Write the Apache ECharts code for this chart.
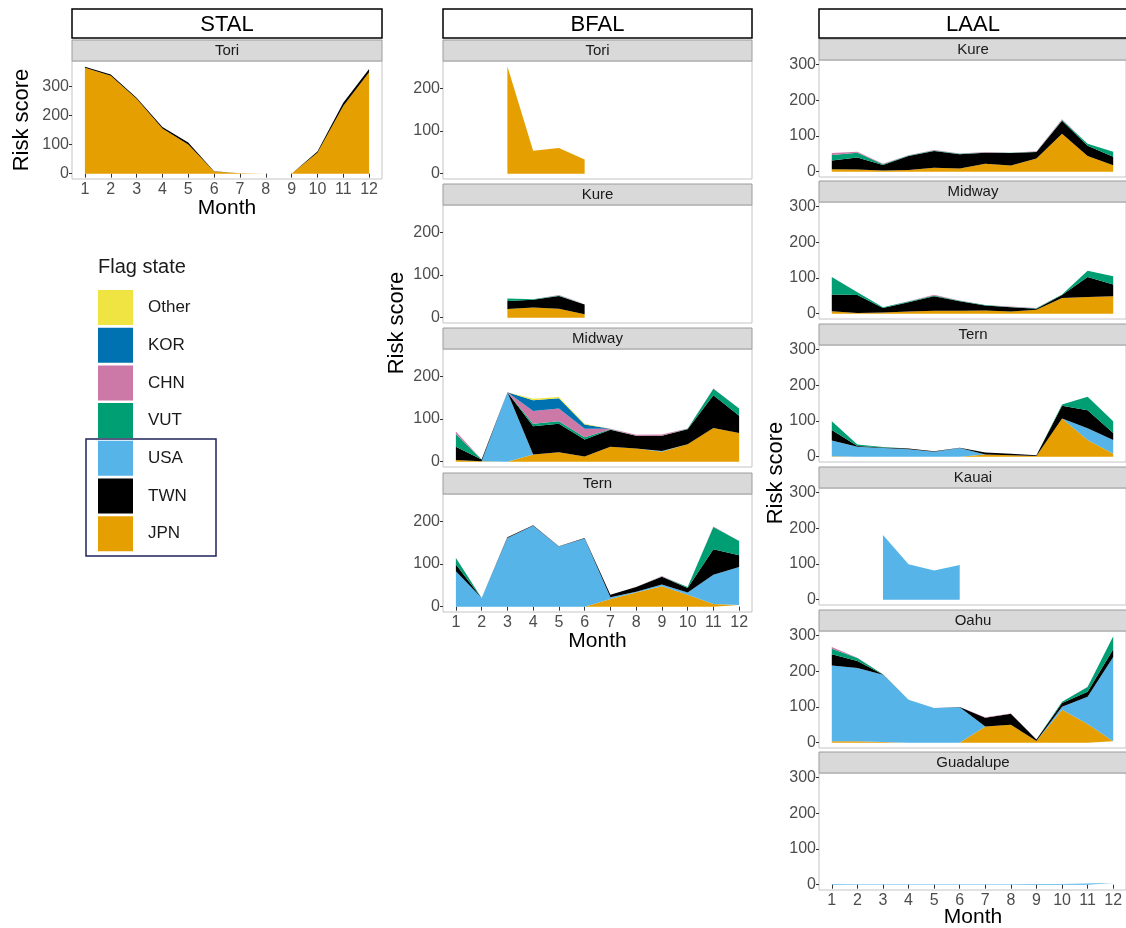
<!DOCTYPE html>
<html>
<head>
<meta charset="utf-8">
<script src="https://cdn.jsdelivr.net/npm/echarts@6/dist/echarts.min.js"></script>
<style>
html,body{margin:0;padding:0;background:#fff;}
#chart{width:1126px;height:928px;}
</style>
</head>
<body>
<div id="chart"></div>
<script>
// ---------------- DATA ----------------
const months = ['1','2','3','4','5','6','7','8','9','10','11','12'];
const stackOrder = ['JPN','USA','TWN','VUT','CHN','KOR','Other']; // bottom -> top
const legendOrder = ['Other','KOR','CHN','VUT','USA','TWN','JPN'];
const flagColors = {Other:'#F0E442', KOR:'#0072B2', CHN:'#CC79A7', VUT:'#009E73', USA:'#56B4E9', TWN:'#000000', JPN:'#E69F00'};
const yTicks_STAL = [0,100,200,300];
const yTicks_BFAL = [0,100,200];
const yTicks_LAAL = [0,100,200,300];
const n = null;

// STAL - Tori
const STAL_Tori_JPN = [363,336,257,155,100,7,1,0,0,72,232,348];
const STAL_Tori_TWN = [4,4,3,5,7,1,0,0,0,4,11,11];

// BFAL - Tori
const BFAL_Tori_JPN = [n,n,252,54,60,33,n,n,n,n,n,n];
// BFAL - Kure
const BFAL_Kure_JPN = [n,n,20,24,21,8,n,n,n,n,n,n];
const BFAL_Kure_TWN = [n,n,19,18,30,23,n,n,n,n,n,n];
const BFAL_Kure_VUT = [n,n,6,1,1,1,n,n,n,n,n,n];
const BFAL_Kure_CHN = [n,n,0,0,1,1,n,n,n,n,n,n];
// BFAL - Midway
const BFAL_Midway_JPN   = [4,1,0,17,22,12,35,31,23,41,79,67];
const BFAL_Midway_USA   = [0,0,163,0,0,0,0,0,2,0,0,0];
const BFAL_Midway_TWN   = [31,4,0,66,67,40,40,30,36,35,77,41];
const BFAL_Midway_VUT   = [30,0,0,6,6,5,1,0,0,1,15,17];
const BFAL_Midway_CHN   = [6,0,0,30,30,20,1,2,3,1,1,1];
const BFAL_Midway_KOR   = [0,0,0,25,24,10,0,0,0,0,0,0];
const BFAL_Midway_Other = [0,0,0,4,3,2,0,0,0,0,0,0];
// BFAL - Tern
const BFAL_Tern_JPN = [0,0,0,0,0,0,18,33,48,28,6,4];
const BFAL_Tern_USA = [83,20,161,190,141,160,4,2,4,5,69,89];
const BFAL_Tern_TWN = [16,0,2,1,1,1,6,11,18,11,60,28];
const BFAL_Tern_VUT = [15,0,0,0,0,0,0,0,1,2,52,33];
const BFAL_Tern_CHN = [1,0,0,0,0,0,0,0,1,0,1,1];

// LAAL - Kure
const LAAL_Kure_JPN = [7,6,3,5,11,9,22,17,37,106,44,18];
const LAAL_Kure_TWN = [24,34,16,39,47,40,31,35,18,37,29,24];
const LAAL_Kure_VUT = [16,13,2,1,1,1,1,1,1,2,5,14];
const LAAL_Kure_CHN = [5,3,1,1,2,1,1,0,1,2,0,0];
// LAAL - Midway
const LAAL_Midway_JPN = [7,2,3,6,8,8,9,6,11,44,47,49];
const LAAL_Midway_TWN = [47,50,13,26,41,27,14,12,3,8,56,33];
const LAAL_Midway_VUT = [49,8,2,2,2,1,1,1,1,2,17,23];
const LAAL_Midway_CHN = [0,0,0,1,2,1,0,1,1,0,0,0];
// LAAL - Tern
const LAAL_Tern_JPN = [1,0,0,0,0,0,6,4,2,107,47,8];
const LAAL_Tern_USA = [44,28,24,21,14,24,0,0,0,0,33,39];
const LAAL_Tern_TWN = [30,2,2,2,1,1,6,4,2,36,50,19];
const LAAL_Tern_VUT = [24,4,1,0,0,0,0,0,0,3,38,33];
// LAAL - Kauai
const LAAL_Kauai_USA = [n,n,181,99,82,97,n,n,n,n,n,n];
// LAAL - Oahu
const LAAL_Oahu_JPN = [4,4,2,0,0,0,45,50,5,92,52,4];
const LAAL_Oahu_USA = [212,205,188,120,97,99,0,0,0,9,77,236];
const LAAL_Oahu_TWN = [32,20,1,0,0,1,25,31,4,10,14,22];
const LAAL_Oahu_VUT = [15,8,1,0,0,0,0,0,0,4,13,36];
const LAAL_Oahu_CHN = [5,1,0,0,0,0,1,1,0,0,1,1];
// LAAL - Guadalupe
const LAAL_Guadalupe_USA = [2,1,1,1,1,1,1,1,2,2,3,5];

const panels = [
  {species:'STAL', site:'Tori', data:{JPN:STAL_Tori_JPN, TWN:STAL_Tori_TWN}},
  {species:'BFAL', site:'Tori', data:{JPN:BFAL_Tori_JPN}},
  {species:'BFAL', site:'Kure', data:{JPN:BFAL_Kure_JPN, TWN:BFAL_Kure_TWN, VUT:BFAL_Kure_VUT, CHN:BFAL_Kure_CHN}},
  {species:'BFAL', site:'Midway', data:{JPN:BFAL_Midway_JPN, USA:BFAL_Midway_USA, TWN:BFAL_Midway_TWN, VUT:BFAL_Midway_VUT, CHN:BFAL_Midway_CHN, KOR:BFAL_Midway_KOR, Other:BFAL_Midway_Other}},
  {species:'BFAL', site:'Tern', data:{JPN:BFAL_Tern_JPN, USA:BFAL_Tern_USA, TWN:BFAL_Tern_TWN, VUT:BFAL_Tern_VUT, CHN:BFAL_Tern_CHN}},
  {species:'LAAL', site:'Kure', data:{JPN:LAAL_Kure_JPN, TWN:LAAL_Kure_TWN, VUT:LAAL_Kure_VUT, CHN:LAAL_Kure_CHN}},
  {species:'LAAL', site:'Midway', data:{JPN:LAAL_Midway_JPN, TWN:LAAL_Midway_TWN, VUT:LAAL_Midway_VUT, CHN:LAAL_Midway_CHN}},
  {species:'LAAL', site:'Tern', data:{JPN:LAAL_Tern_JPN, USA:LAAL_Tern_USA, TWN:LAAL_Tern_TWN, VUT:LAAL_Tern_VUT}},
  {species:'LAAL', site:'Kauai', data:{USA:LAAL_Kauai_USA}},
  {species:'LAAL', site:'Oahu', data:{JPN:LAAL_Oahu_JPN, USA:LAAL_Oahu_USA, TWN:LAAL_Oahu_TWN, VUT:LAAL_Oahu_VUT, CHN:LAAL_Oahu_CHN}},
  {species:'LAAL', site:'Guadalupe', data:{USA:LAAL_Guadalupe_USA}}
];

// ---------------- LAYOUT ----------------
const FONT = 'Liberation Sans, Arial, Helvetica, sans-serif';
const columns = {
  STAL: {left:72, width:310, yMin:-18.4, yMax:386.4, yTicks:yTicks_STAL, tops:[61], height:118, bottomSite:'Tori', monthY:208, riskX:22, riskY:120},
  BFAL: {left:443, width:309, yMin:-12.6, yMax:264.6, yTicks:yTicks_BFAL, tops:[61,205,349,494], height:118, bottomSite:'Tern', monthY:641, riskX:397, riskY:323},
  LAAL: {left:819, width:308, yMin:-14.9, yMax:312.9, yTicks:yTicks_LAAL, tops:[60,202,345,488,631,773], height:117, bottomSite:'Guadalupe', monthY:917, riskX:776, riskY:473}
};

const grids = [], xAxes = [], yAxes = [], series = [], graphics = [];
const colCount = {STAL:0, BFAL:0, LAAL:0};

panels.forEach((p, i) => {
  const c = columns[p.species];
  const top = c.tops[colCount[p.species]++];
  const isBottom = p.site === c.bottomSite;
  grids.push({left:c.left, top:top, width:c.width, height:c.height, show:true,
    borderColor:'#c4c4c4', borderWidth:1, backgroundColor:'#ffffff', containLabel:false});
  xAxes.push({type:'category', gridIndex:i, data:months, boundaryGap:true,
    axisLine:{show:false}, splitLine:{show:false},
    axisTick:{show:isBottom, alignWithLabel:true, interval:0, length:4, lineStyle:{color:'#333333'}},
    axisLabel:{show:isBottom, interval:0, fontSize:16, color:'#4d4d4d', margin:3, fontFamily:FONT}
  });
  yAxes.push({type:'value', gridIndex:i, min:c.yMin, max:c.yMax,
    axisLine:{show:false}, splitLine:{show:false},
    axisTick:{show:true, customValues:c.yTicks, length:3, lineStyle:{color:'#333333'}},
    axisLabel:{show:true, customValues:c.yTicks, fontSize:16, color:'#4d4d4d', margin:3, fontFamily:FONT}
  });
  stackOrder.forEach(country => {
    const vals = p.data[country];
    if (!vals) return;
    series.push({
      type:'line', name:country, xAxisIndex:i, yAxisIndex:i, stack:'panel'+i,
      data: vals.map(v => v === null ? '-' : v),
      symbol:'none', showSymbol:false, silent:true,
      color: flagColors[country],
      itemStyle:{color: flagColors[country]},
      lineStyle:{width:0, color: flagColors[country]},
      areaStyle:{color: flagColors[country], opacity:1}
    });
  });
  // strip
  graphics.push({type:'rect', z:10, shape:{x:c.left, y:top-21, width:c.width, height:21},
    style:{fill:'#d9d9d9', stroke:'#9c9c9c', lineWidth:1}});
  graphics.push({type:'text', z:11, x:c.left + c.width/2, y:top-10.5,
    style:{text:p.site, fill:'#1a1a1a', font:'15px ' + FONT, textAlign:'center', textVerticalAlign:'middle'}});
});

// column headers, axis titles
Object.keys(columns).forEach(sp => {
  const c = columns[sp];
  graphics.push({type:'rect', z:10, shape:{x:c.left, y:9, width:c.width, height:29},
    style:{fill:'#ffffff', stroke:'#000000', lineWidth:1.5}});
  graphics.push({type:'text', z:11, x:c.left + c.width/2, y:25,
    style:{text:sp, fill:'#000000', font:'22px ' + FONT, textAlign:'center', textVerticalAlign:'middle'}});
  graphics.push({type:'text', z:11, x:c.left + c.width/2, y:c.monthY,
    style:{text:'Month', fill:'#000000', font:'21px ' + FONT, textAlign:'center', textVerticalAlign:'middle'}});
  graphics.push({type:'text', z:11, x:c.riskX, y:c.riskY, rotation:Math.PI/2,
    style:{text:'Risk score', fill:'#000000', font:'22px ' + FONT, textAlign:'center', textVerticalAlign:'middle'}});
});

// legend title and highlight box
graphics.push({type:'text', z:11, x:98, y:267,
  style:{text:'Flag state', fill:'#1a1a1a', font:'20px ' + FONT, textAlign:'left', textVerticalAlign:'middle'}});
graphics.push({type:'rect', z:20, shape:{x:86, y:439, width:130, height:117},
  style:{fill:'none', stroke:'#1f2358', lineWidth:1.5}});

const chart = echarts.init(document.getElementById('chart'), null, {renderer:'canvas'});
chart.setOption({
  animation:false,
  backgroundColor:'#ffffff',
  grid:grids, xAxis:xAxes, yAxis:yAxes, series:series,
  legend:{
    data: legendOrder.map(nm => ({name:nm, icon:'rect', itemStyle:{color:flagColors[nm]}})),
    orient:'vertical', left:98, top:290, padding:0, itemWidth:35, itemHeight:35, itemGap:2.7,
    selectedMode:false,
    textStyle:{fontSize:17, color:'#1a1a1a', fontFamily:FONT, padding:[0,0,0,10]}
  },
  graphic: graphics
});
</script>
</body>
</html>
